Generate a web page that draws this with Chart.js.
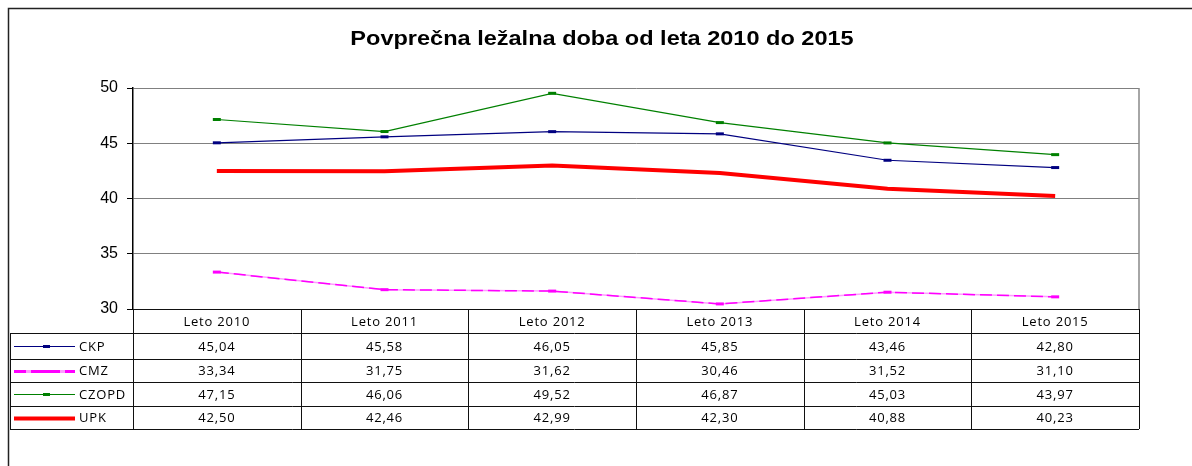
<!DOCTYPE html>
<html>
<head>
<meta charset="utf-8">
<script src="https://cdn.jsdelivr.net/npm/chart.js@4.4.1/dist/chart.umd.min.js"></script>
<style>
  html, body { margin: 0; padding: 0; background: #fff; }
  #wrap { width: 1192px; height: 466px; position: relative; }
</style>
</head>
<body>
<div id="wrap"><canvas id="chart" width="1192" height="466"></canvas></div>
<script>
// Data
const categories = ['Leto 2010', 'Leto 2011', 'Leto 2012', 'Leto 2013', 'Leto 2014', 'Leto 2015'];
const ckp   = [45.04, 45.58, 46.05, 45.85, 43.46, 42.80];
const cmz   = [33.34, 31.75, 31.62, 30.46, 31.52, 31.10];
const czopd = [47.15, 46.06, 49.52, 46.87, 45.03, 43.97];
const upk   = [42.50, 42.46, 42.99, 42.30, 40.88, 40.23];
const yTicks = [30, 35, 40, 45, 50];
const chartTitle = 'Povprečna ležalna doba od leta 2010 do 2015';

const TABLE_FONT = '13px "Open Sans", "Liberation Sans", sans-serif';

// Format numbers like the Slovenian data table (comma decimal)
const fmt = v => v.toFixed(2).replace('.', ',');

/**
 * Light pink underlay for the dashed CMZ line (Excel draws the gaps lighter)
 */
const underlayPlugin = {
  id: 'dashUnderlay',
  beforeDatasetsDraw(chart) {
    const meta = chart.getDatasetMeta(1);
    const ctx = chart.ctx;
    ctx.save();
    ctx.strokeStyle = '#ff9cff';
    ctx.lineWidth = 1.5;
    ctx.beginPath();
    meta.data.forEach((pt, i) => {
      if (i === 0) ctx.moveTo(pt.x, pt.y);
      else ctx.lineTo(pt.x, pt.y);
    });
    ctx.stroke();
    ctx.restore();
  }
};

/**
 * Draws the frame, title and the Excel-style data table under the plot
 */
const tablePlugin = {
  id: 'dataTable',
  afterDraw(chart) {
    const ctx = chart.ctx;
    const x = chart.scales.x;
    const area = chart.chartArea;
    const step = x.width / categories.length;
    const rowH = [24, 26, 23, 24, 23];
    const legendLeft = 10;

    ctx.save();

    // outer chart frame
    ctx.strokeStyle = '#222';
    ctx.lineWidth = 1.5;
    ctx.beginPath();
    ctx.moveTo(8.5, 466);
    ctx.lineTo(8.5, 8.5);
    ctx.lineTo(1192, 8.5);
    ctx.stroke();

    // title (Excel renders it slightly stretched)
    ctx.save();
    ctx.fillStyle = '#000';
    ctx.font = 'bold 21px "Liberation Sans", Arial, sans-serif';
    ctx.textAlign = 'center';
    ctx.textBaseline = 'middle';
    ctx.translate(602, 39);
    ctx.scale(1.12, 1);
    ctx.fillText(chartTitle, 0, 0);
    ctx.restore();

    // right plot border
    ctx.strokeStyle = '#888';
    ctx.lineWidth = 1.5;
    ctx.beginPath();
    ctx.moveTo(area.right, area.top);
    ctx.lineTo(area.right, area.bottom);
    ctx.stroke();

    // row positions
    const rowTop = [area.bottom];
    rowH.forEach(h => rowTop.push(rowTop[rowTop.length - 1] + h));
    const tableBottom = rowTop[rowTop.length - 1];

    ctx.strokeStyle = '#111';
    ctx.lineWidth = 1;
    ctx.beginPath();
    // horizontal lines
    ctx.moveTo(area.left, rowTop[0] + 0.5);
    ctx.lineTo(area.right, rowTop[0] + 0.5);
    for (let r = 1; r < rowTop.length; r++) {
      ctx.moveTo(legendLeft, Math.round(rowTop[r]) + 0.5);
      ctx.lineTo(area.right, Math.round(rowTop[r]) + 0.5);
    }
    // vertical lines between categories
    for (let i = 0; i <= categories.length; i++) {
      const vx = Math.round(x.getPixelForValue(0) - step / 2 + i * step) + 0.5;
      ctx.moveTo(vx, rowTop[0]);
      ctx.lineTo(vx, tableBottom);
    }
    ctx.moveTo(legendLeft + 0.5, rowTop[1]);
    ctx.lineTo(legendLeft + 0.5, tableBottom);
    ctx.stroke();

    // header and cell text
    ctx.font = TABLE_FONT;
    ctx.letterSpacing = '0.8px';
    ctx.fillStyle = '#000';
    ctx.textAlign = 'center';
    ctx.textBaseline = 'middle';
    categories.forEach((c, i) => {
      ctx.fillText(c, x.getPixelForValue(i), rowTop[0] + rowH[0] / 2 + 1);
    });

    chart.data.datasets.forEach((ds, r) => {
      const cy = rowTop[r + 1] + rowH[r + 1] / 2 + 1;
      ds.data.forEach((v, i) => {
        ctx.textAlign = 'center';
        ctx.fillText(fmt(v), x.getPixelForValue(i), cy);
      });

      // legend key
      const ly = Math.round(cy) - 0.5;
      if (ds.borderDash) {
        ctx.strokeStyle = '#ff9cff';
        ctx.lineWidth = 3;
        ctx.beginPath();
        ctx.moveTo(14, ly);
        ctx.lineTo(75, ly);
        ctx.stroke();
      }
      ctx.strokeStyle = ds.borderColor;
      ctx.lineWidth = ds.borderDash ? 3 : ds.borderWidth;
      ctx.setLineDash(ds.borderDash || []);
      ctx.beginPath();
      ctx.moveTo(14, ly);
      ctx.lineTo(75, ly);
      ctx.stroke();
      ctx.setLineDash([]);
      if (ds.pointRadius > 0) {
        ctx.lineWidth = ds.pointBorderWidth;
        ctx.strokeStyle = ds.pointBorderColor;
        ctx.beginPath();
        ctx.moveTo(43, ly);
        ctx.lineTo(50, ly);
        ctx.stroke();
      }
      ctx.fillStyle = '#000';
      ctx.textAlign = 'left';
      ctx.fillText(ds.label, 79, cy);
    });

    ctx.restore();
  }
};

function series(label, data, color, width, extra) {
  return Object.assign({
    label: label,
    data: data,
    borderColor: color,
    backgroundColor: color,
    borderWidth: width,
    pointStyle: 'line',
    pointRadius: 4,
    pointBorderWidth: 3,
    pointBorderColor: color,
    pointHoverRadius: 4,
    tension: 0,
    fill: false
  }, extra || {});
}

new Chart(document.getElementById('chart'), {
  type: 'line',
  data: {
    labels: categories,
    datasets: [
      series('CKP', ckp, '#000080', 1.2),
      series('CMZ', cmz, '#ff00ff', 1.5, { borderDash: [12, 5] }),
      series('CZOPD', czopd, '#008000', 1.2),
      series('UPK', upk, '#ff0000', 4, { pointRadius: 0 })
    ]
  },
  options: {
    responsive: false,
    animation: false,
    layout: { padding: { left: 0, right: 53, top: 88, bottom: 157 } },
    plugins: {
      legend: { display: false },
      title: { display: false },
      tooltip: { enabled: false }
    },
    scales: {
      x: {
        type: 'category',
        offset: true,
        display: false
      },
      y: {
        min: 30,
        max: 50,
        afterFit: scale => { scale.width = 133; },
        afterBuildTicks: scale => { scale.ticks = yTicks.map(v => ({ value: v })); },
        ticks: {
          color: '#000',
          padding: 9,
          font: { family: '"Liberation Sans", Arial, sans-serif', size: 16 }
        },
        grid: {
          color: '#808080',
          tickColor: '#000',
          tickLength: 6,
          lineWidth: 1
        },
        border: { display: true, color: '#000', width: 1.5 }
      }
    }
  },
  plugins: [underlayPlugin, tablePlugin]
});
</script>
</body>
</html>
